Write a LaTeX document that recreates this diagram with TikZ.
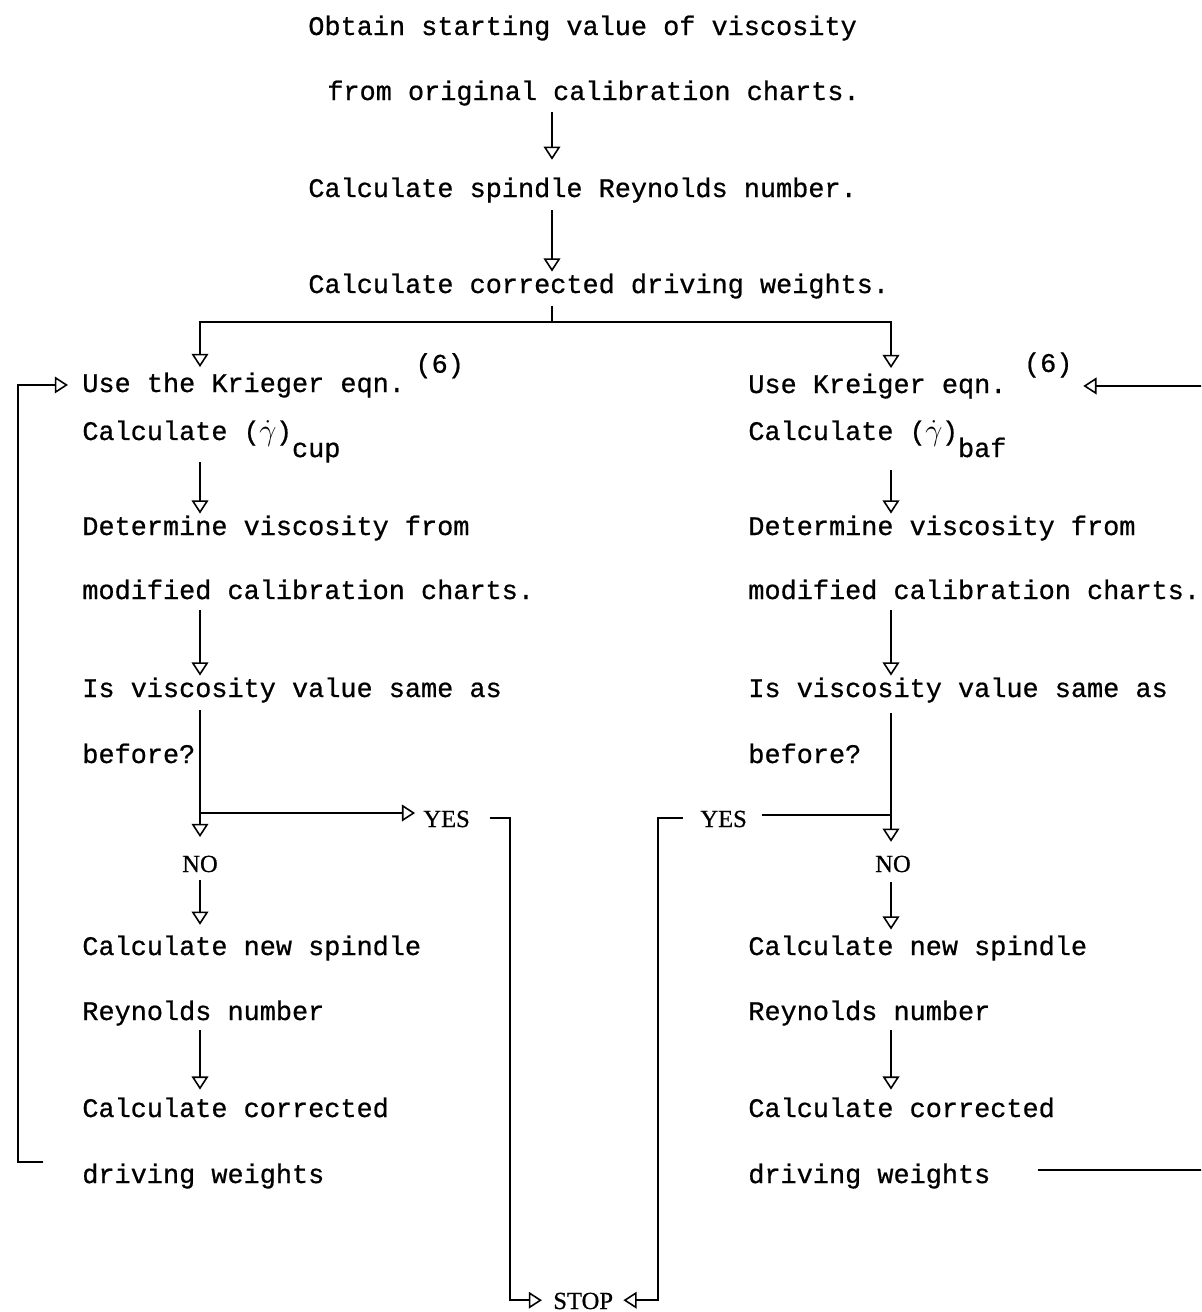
\documentclass[tikz,border=0pt]{standalone}
\usepackage{fontspec}
\newfontfamily\typew[FakeBold=0.7]{Liberation Mono}
\newfontfamily\serifw[FakeBold=0.7]{Liberation Serif}
\usetikzlibrary{arrows.meta}
\tikzset{
txt/.style={font=\typew\fontsize{15.3}{18}\selectfont,anchor=base west,inner sep=0pt,text height=12pt,text depth=4pt},
reply/.style={font=\serifw\fontsize{14}{16}\selectfont,inner sep=0pt,text height=10pt,text depth=0pt},
flow/.style={-{Triangle[open,length=7.5pt,width=9.5pt]},line width=.9pt},
link/.style={line width=.9pt}
}
\newcommand{\gdot}{\makebox[0.6em]{\fontsize{16}{18}\selectfont$\dot\gamma$}}
\begin{document}
\begin{tikzpicture}[x=.02cm,y=-.02cm]
\clip (0,0) rectangle (1201,1312);
\coordinate (mid) at (552,0);\coordinate (lax) at (200,0);\coordinate (rax) at (891,0);
\coordinate (fork) at (552,322);\coordinate (decL) at (200,813);\coordinate (decR) at (891,815);
\coordinate (lloop) at (18,0);\coordinate (rloop) at (1230,0);
\coordinate (stopL) at (510,0);\coordinate (stopR) at (658,0);
\node[txt](obtainA) at (308,35){Obtain starting value of viscosity};
\node[txt](obtainB) at (327,100){from original calibration charts.};
\node[txt](spindle) at (308,197){Calculate spindle Reynolds number.};
\node[txt](weights) at (308,293){Calculate corrected driving weights.};
\node[txt](kriegL) at (82,392){Use the Krieger eqn.\hspace{6pt}\raisebox{11pt}{(6)}};
\node[txt](gammaL) at (82,440){Calculate (\gdot)\raisebox{-9.7pt}{cup}};
\node[txt](detL) at (82,535){Determine viscosity from};
\node[txt](modL) at (82,599){modified calibration charts.};
\node[txt](sameL) at (82,697){Is viscosity value same as};
\node[txt](beforeL) at (82,763){before?};
\node[reply,anchor=base](noL) at (200,872){NO};
\node[reply,anchor=base west](yesL) at (423,827){YES};
\node[txt](newL) at (82,955){Calculate new spindle};
\node[txt](reyL) at (82,1020){Reynolds number};
\node[txt](corrL) at (82,1117){Calculate corrected};
\node[txt](driveL) at (82,1183){driving weights};
\node[txt](kriegR) at (748,393){Use Kreiger eqn.\hspace{10pt}\raisebox{12pt}{(6)}};
\node[txt](gammaR) at (748,440){Calculate (\gdot)\raisebox{-9.7pt}{baf}};
\node[txt](detR) at (748,535){Determine viscosity from};
\node[txt](modR) at (748,599){modified calibration charts.};
\node[txt](sameR) at (748,697){Is viscosity value same as};
\node[txt](beforeR) at (748,763){before?};
\node[reply,anchor=base](noR) at (893,872){NO};
\node[reply,anchor=base west](yesR) at (700,827){YES};
\node[txt](newR) at (748,955){Calculate new spindle};
\node[txt](reyR) at (748,1020){Reynolds number};
\node[txt](corrR) at (748,1117){Calculate corrected};
\node[txt](driveR) at (748,1183){driving weights};
\node[reply,anchor=base west](stop) at (553,1309){STOP};
\draw[flow,shorten <=2.8pt,shorten >=9pt](obtainB.south -| mid)--(spindle.north -| mid);
\draw[flow,shorten <=3.4pt](spindle.south -| mid)--(weights.north -| mid);
\draw[link,shorten <=3pt](weights.south -| mid)--(fork);
\draw[flow,shorten >=2pt](fork)-|(kriegL.north -| lax);
\draw[flow,shorten >=2pt](fork)-|(kriegR.north -| rax);
\draw[flow,shorten <=8.5pt](gammaL.south -| lax)--(detL.north -| lax);
\draw[flow,shorten <=2pt](modL.south -| lax)--(sameL.north -| lax);
\draw[link,shorten <=3.4pt](sameL.south -| decL)--(decL);
\draw[flow,shorten >=9.7pt](decL)--(noL.north);
\draw[flow,shorten >=4.5pt](decL)--(decL -| yesL.west);
\draw[flow,shorten <=11pt,shorten >=6.3pt](yesL.east)--(yesL.east -| stopL)|-(stop.west);
\draw[flow,shorten <=4.5pt,shorten >=5pt](noL.south)--(newL.north -| noL.south);
\draw[flow,shorten <=1.7pt,shorten >=3.4pt](reyL.south -| lax)--(corrL.north -| lax);
\draw[flow,shorten <=22pt,shorten >=8pt]([yshift=8pt]driveL.west)--([yshift=8pt]driveL.west -| lloop)|-(kriegL.west);
\draw[flow,shorten <=13pt](gammaR.south -| rax)--(detR.north -| rax);
\draw[flow,shorten <=2pt](modR.south -| rax)--(sameR.north -| rax);
\draw[link,shorten <=5pt](sameR.south -| decR)--(decR);
\draw[flow,shorten >=7pt](decR)--(noR.north -| decR);
\draw[link,shorten >=8.5pt](decR)--(decR -| yesR.east);
\draw[flow,shorten <=9.7pt,shorten >=5.7pt](yesR.west)--(yesR.west -| stopR)|-(stop.east);
\draw[flow,shorten <=5.7pt,shorten >=2.3pt](noR.south -| rax)--(newR.north -| rax);
\draw[flow,shorten <=1.7pt,shorten >=3.4pt](reyR.south -| rax)--(corrR.north -| rax);
\draw[flow,shorten <=26.7pt,shorten >=6pt]([yshift=3.4pt]driveR.east)--([yshift=3.4pt]driveR.east -| rloop)|-(kriegR.east);
\end{tikzpicture}
\end{document}
